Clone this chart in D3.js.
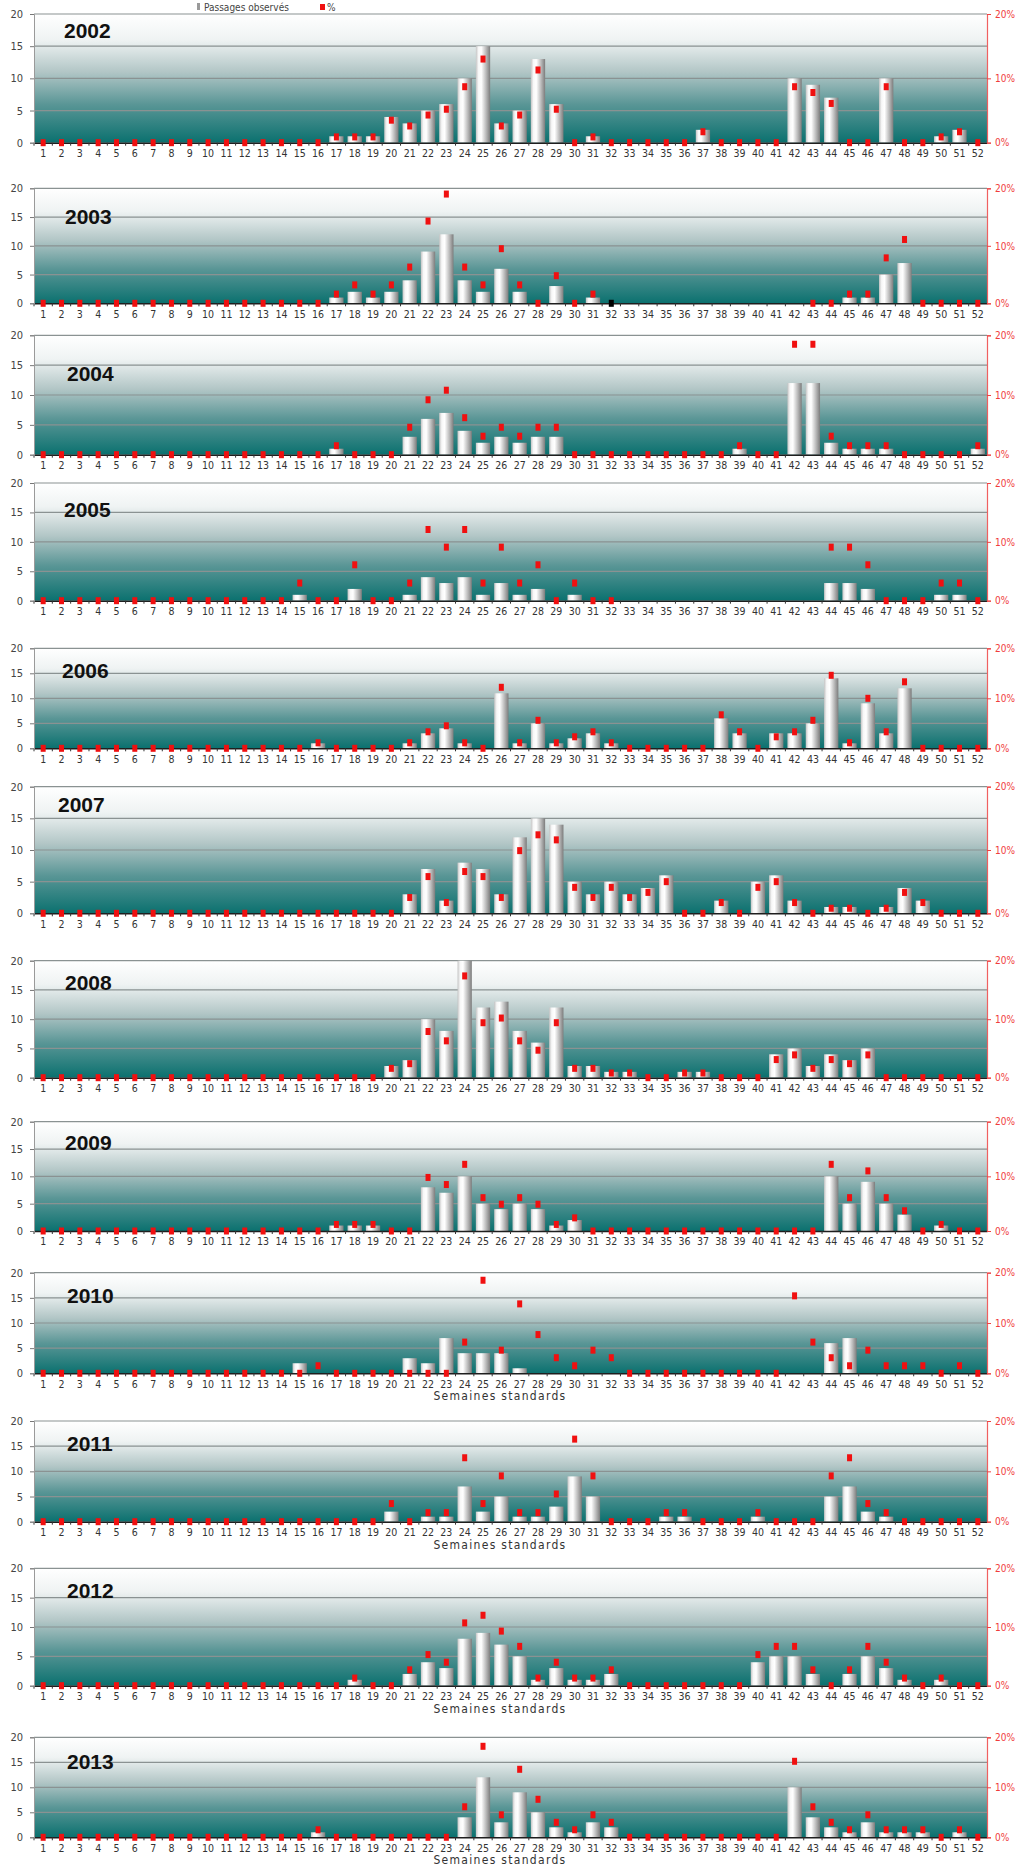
<!DOCTYPE html>
<html>
<head>
<meta charset="utf-8">
<script src="https://cdn.jsdelivr.net/npm/d3@7"></script>
<style>
  html, body { margin: 0; padding: 0; background: #ffffff; }
  svg { display: block; }
  text { font-family: "Liberation Sans Narrow", "DejaVu Sans Condensed", "Arial Narrow", sans-serif; }
</style>
</head>
<body>
<svg id="chart" width="1027" height="1867"></svg>
<script>
// ---- Données : passages observés par semaine standard et part annuelle (%) ----
const semaines = [1,2,3,4,5,6,7,8,9,10,11,12,13,14,15,16,17,18,19,20,21,22,23,24,25,26,
                  27,28,29,30,31,32,33,34,35,36,37,38,39,40,41,42,43,44,45,46,47,48,49,50,51,52];
const annees = [2002,2003,2004,2005,2006,2007,2008,2009,2010,2011,2012,2013];
const ticksPassages = [0,5,10,15,20];
const ticksPct = [0,10,20];

const passages2002 = [0,0,0,0,0,0,0,0,0,0,0,0,0,0,0,0, 1,1,1,4,3,5,6,10,15,3,5,13,6,0,1,0,0,0,0,0,2,0,0,0,0,10,9,7,0,0,10,0,0,1,2,0];
const pct2002      = [0,0,0,0,0,0,0,0,0,0,0,0,0,0,0,0, 0.9,0.9,0.9,3.5,2.6,4.3,5.2,8.7,13.0,2.6,4.3,11.3,5.2,0,0.9,0,0,0,0,0,1.7,0,0,0,0,8.7,7.8,6.1,0,0,8.7,0,0,0.9,1.7,0];

const passages2003 = [0,0,0,0,0,0,0,0,0,0,0,0,0,0,0,0, 1,2,1,2,4,9,12,4,2,6,2,0,3,0,1,0, 0,0,0,0,0,0,0,0,0,0,0,0, 1,1,5,7,0,0,0,0];
const pct2003      = [0,0,0,0,0,0,0,0,0,0,0,0,0,0,0,0, 1.6,3.2,1.6,3.2,6.3,14.3,19.0,6.3,3.2,9.5,3.2,0,4.8,0,1.6,null,
                      null,null,null,null,null,null,null,null,null,null, 0,0,1.6,1.6,7.9,11.1,0,0,0,0];

const passages2004 = [0,0,0,0,0,0,0,0,0,0,0,0,0,0,0,0, 1,0,0,0,3,6,7,4,2,3,2,3,3, 0,0,0,0,0,0,0,0,0, 1,0,0,12,12,2,1,1,1,0,0,0,0,1];
const pct2004      = [0,0,0,0,0,0,0,0,0,0,0,0,0,0,0,0, 1.5,0,0,0,4.6,9.2,10.8,6.2,3.1,4.6,3.1,4.6,4.6, 0,0,0,0,0,0,0,0,0, 1.5,0,0,18.5,18.5,3.1,1.5,1.5,1.5,0,0,0,0,1.5];

const passages2005 = [0,0,0,0,0,0,0,0,0,0,0,0,0,0, 1,0,0,2,0,0,1,4,3,4,1,3,1,2,0,1,0,0, 0,0,0,0,0,0,0,0,0,0,0, 3,3,2,0,0,0,1,1,0];
const pct2005      = [0,0,0,0,0,0,0,0,0,0,0,0,0,0, 3.0,0,0,6.1,0,0,3.0,12.1,9.1,12.1,3.0,9.1,3.0,6.1,0,3.0,0,0,
                      null,null,null,null,null,null,null,null,null,null,null, 9.1,9.1,6.1,0,0,0,3.0,3.0,0];

const passages2006 = [0,0,0,0,0,0,0,0,0,0,0,0,0,0,0, 1,0,0,0,0,1,3,4,1,0,11,1,5,1,2,3,1, 0,0,0,0,0, 6,3,0,3,3,5,14,1,9,3,12, 0,0,0,0];
const pct2006      = [0,0,0,0,0,0,0,0,0,0,0,0,0,0,0, 1.1,0,0,0,0,1.1,3.3,4.5,1.1,0,12.2,1.1,5.6,1.1,2.3,3.3,1.1, 0,0,0,0,0, 6.7,3.3,0,2.3,3.3,5.6,14.6,1.1,10.0,3.3,13.3, 0,0,0,0];

const passages2007 = [0,0,0,0,0,0,0,0,0,0,0,0,0,0,0,0,0,0,0,0, 3,7,2,8,7,3,12,15,14,5,3,5,3,4,6,0,0,2,0,5,6,2,0,1,1,0,1,4,2,0,0,0];
const pct2007      = [0,0,0,0,0,0,0,0,0,0,0,0,0,0,0,0,0,0,0,0, 2.5,5.8,1.7,6.6,5.8,2.5,9.9,12.4,11.6,4.1,2.5,4.1,2.5,3.3,5.0,0,0,1.7,0,4.1,5.0,1.7,0,0.8,0.8,0,0.8,3.3,1.7,0,0,0];

const passages2008 = [0,0,0,0,0,0,0,0,0,0,0,0,0,0,0,0,0,0,0, 2,3,10,8,20,12,13,8,6,12,2,2,1,1,0,0,1,1,0,0,0,4,5,2,4,3,5, 0,0,0,0,0,0];
const pct2008      = [0,0,0,0,0,0,0,0,0,0,0,0,0,0,0,0,0,0,0, 1.6,2.4,7.9,6.3,17.4,9.4,10.2,6.3,4.7,9.4,1.6,1.6,0.8,0.8,0,0,0.8,0.8,0,0,0,3.1,3.9,1.6,3.1,2.4,3.9, 0,0,0,0,0,0];

const passages2009 = [0,0,0,0,0,0,0,0,0,0,0,0,0,0,0,0, 1,1,1,0,0,8,7,10,5,4,5,4,1,2, 0,0,0,0,0,0,0,0,0,0,0,0,0, 10,5,9,5,3,0,1,0,0];
const pct2009      = [0,0,0,0,0,0,0,0,0,0,0,0,0,0,0,0, 1.2,1.2,1.2,0,0,9.8,8.5,12.2,6.1,4.9,6.1,4.9,1.2,2.4, 0,0,0,0,0,0,0,0,0,0,0,0,0, 12.2,6.1,11.0,6.1,3.7,0,1.2,0,0];

const passages2010 = [0,0,0,0,0,0,0,0,0,0,0,0,0,0, 2,0,0,0,0,0, 3,2,7,4,4,4,1, 0,0,0,0,0,0,0,0,0,0,0,0,0,0,0,0, 6,7, 0,0,0,0,0,0,0];
const pct2010      = [0,0,0,0,0,0,0,0,0,0,0,0,0,0,0, 1.5, 0,0,0,0,0,0,0, 6.2,18.5,4.6,13.8,7.7,3.1,1.5,4.6,3.1, 0,0,0,0,0,0,0,0,0, 15.4,6.2,3.1,1.5,4.6,1.5,1.5,1.5,0,1.5,0];

const passages2011 = [0,0,0,0,0,0,0,0,0,0,0,0,0,0,0,0,0,0,0, 2,0,1,1,7,2,5,1,1,3,9,5,0,0,0,1,1,0,0,0,1,0,0,0,5,7,2,1, 0,0,0,0,0];
const pct2011      = [0,0,0,0,0,0,0,0,0,0,0,0,0,0,0,0,0,0,0, 3.6,0,1.8,1.8,12.7,3.6,9.1,1.8,1.8,5.5,16.4,9.1,0,0,0,1.8,1.8,0,0,0,1.8,0,0,0,9.1,12.7,3.6,1.8, 0,0,0,0,0];

const passages2012 = [0,0,0,0,0,0,0,0,0,0,0,0,0,0,0,0,0, 1,0,0,2,4,3,8,9,7,5,1,3,1,1,2, 0,0,0,0,0,0,0, 4,5,5,2,0,2,5,3,1,0,1,0,0];
const pct2012      = [0,0,0,0,0,0,0,0,0,0,0,0,0,0,0,0,0, 1.3,0,0,2.7,5.3,4.0,10.7,12.0,9.3,6.7,1.3,4.0,1.3,1.3,2.7, 0,0,0,0,0,0,0, 5.3,6.7,6.7,2.7,0,2.7,6.7,4.0,1.3,0,1.3,0,0];

const passages2013 = [0,0,0,0,0,0,0,0,0,0,0,0,0,0,0, 1, 0,0,0,0,0,0,0, 4,12,3,9,5,2,1,3,2, 0,0,0,0,0,0,0,0,0, 10,4,2,1,3,1,1,1,0,1,0];
const pct2013      = [0,0,0,0,0,0,0,0,0,0,0,0,0,0,0, 1.5, 0,0,0,0,0,0,0, 6.1,18.2,4.5,13.6,7.6,3.0,1.5,4.5,3.0, 0,0,0,0,0,0,0,0,0, 15.2,6.1,3.0,1.5,4.5,1.5,1.5,1.5,0,1.5,0];

// point de la série % tracé en noir
const marquesNoires = [{annee: 2003, semaine: 32, pct: 0}];

const serieParAnnee = {
  2002: [passages2002, pct2002], 2003: [passages2003, pct2003], 2004: [passages2004, pct2004],
  2005: [passages2005, pct2005], 2006: [passages2006, pct2006], 2007: [passages2007, pct2007],
  2008: [passages2008, pct2008], 2009: [passages2009, pct2009], 2010: [passages2010, pct2010],
  2011: [passages2011, pct2011], 2012: [passages2012, pct2012], 2013: [passages2013, pct2013]
};

// ---- Mise en page des douze panneaux ----
const mise = [
  {haut: 14,     bas: 142.7,  titreX: 64, titreY: 30.7,   legende: false},
  {haut: 188.3,  bas: 303.3,  titreX: 65, titreY: 216.7,  legende: false},
  {haut: 335.3,  bas: 454.7,  titreX: 67, titreY: 373.8,  legende: false},
  {haut: 483,    bas: 600.7,  titreX: 64, titreY: 509.7,  legende: false},
  {haut: 648.3,  bas: 748.3,  titreX: 62, titreY: 670,    legende: false},
  {haut: 786.7,  bas: 913.3,  titreX: 58, titreY: 804,    legende: false},
  {haut: 960.7,  bas: 1077.7, titreX: 65, titreY: 982.3,  legende: false},
  {haut: 1121.7, bas: 1231,   titreX: 65, titreY: 1142.3, legende: false},
  {haut: 1272.7, bas: 1373.3, titreX: 67, titreY: 1295.7, legende: true},
  {haut: 1421,   bas: 1521.7, titreX: 67, titreY: 1443.3, legende: true},
  {haut: 1568.3, bas: 1685.7, titreX: 67, titreY: 1590,   legende: true},
  {haut: 1737.3, bas: 1837.3, titreX: 67, titreY: 1761.7, legende: true}
];

const gauche = 34, droite = 987;
const rouge = '#f01010';

const svg = d3.select('#chart');
const defs = svg.append('defs');

// dégradé de fond : blanc en haut, sarcelle en bas
const fond = defs.append('linearGradient').attr('id', 'fond')
  .attr('x1', 0).attr('y1', 0).attr('x2', 0).attr('y2', 1);
[[0, '#ffffff'], [0.2, '#eff3f3'], [0.45, '#b2c6c6'], [0.7, '#5a9696'], [1, '#0b716f']]
  .forEach(([o, c]) => fond.append('stop').attr('offset', o).attr('stop-color', c));

// dégradé cylindrique des barres
const grad = defs.append('linearGradient').attr('id', 'barre')
  .attr('x1', 0).attr('y1', 0).attr('x2', 1).attr('y2', 0);
[[0, '#c4c4c4'], [0.18, '#f7f7f7'], [0.38, '#ffffff'], [0.7, '#bdbdbd'], [1, '#7c7c7c']]
  .forEach(([o, c]) => grad.append('stop').attr('offset', o).attr('stop-color', c));

const x = d3.scaleBand().domain(semaines).range([gauche, droite]).paddingInner(0.22).paddingOuter(0.11);
const pas = x.step();
const bw = x.bandwidth();

annees.forEach((annee, k) => {
  const m = mise[k];
  const [passages, pct] = serieParAnnee[annee];
  const y = d3.scaleLinear().domain([0, 20]).range([m.bas, m.haut]).clamp(true);
  const yPct = d3.scaleLinear().domain([0, 20]).range([m.bas, m.haut]);
  const g = svg.append('g').attr('class', 'panneau');

  g.append('rect')
    .attr('x', gauche).attr('y', m.haut)
    .attr('width', droite - gauche).attr('height', m.bas - m.haut)
    .attr('fill', 'url(#fond)');

  // lignes de quadrillage
  g.selectAll('line.grille').data(ticksPassages.filter(t => t > 0)).join('line')
    .attr('class', 'grille')
    .attr('x1', gauche).attr('x2', droite)
    .attr('y1', d => y(d)).attr('y2', d => y(d))
    .attr('stroke', '#8a9292').attr('stroke-width', 1.2);

  // barres des passages observés
  const donneesBarres = semaines.map((s, i) => ({s, v: passages[i]})).filter(d => d.v > 0);
  g.selectAll('rect.barre').data(donneesBarres).join('rect')
    .attr('class', 'barre')
    .attr('x', d => x(d.s)).attr('width', bw)
    .attr('y', d => y(d.v)).attr('height', d => m.bas - y(d.v))
    .attr('fill', 'url(#barre)');

  // axe des semaines
  const axeX = g.append('g').attr('transform', `translate(0,${m.bas})`)
    .call(d3.axisBottom(x).tickSize(0).tickPadding(7));
  axeX.select('.domain').attr('stroke', '#1e1e1e').attr('stroke-width', 1.4);
  axeX.selectAll('text').attr('fill', '#333').attr('font-size', 10.5);
  g.selectAll('line.cran').data(semaines).join('line')
    .attr('class', 'cran')
    .attr('x1', d => x(d) - (pas - bw) / 2).attr('x2', d => x(d) - (pas - bw) / 2)
    .attr('y1', m.bas).attr('y2', m.bas + 3)
    .attr('stroke', '#333').attr('stroke-width', 1);

  // axe gauche (passages)
  const axeG = g.append('g').attr('transform', `translate(${gauche},0)`)
    .call(d3.axisLeft(y).tickValues(ticksPassages).tickSize(4).tickPadding(7));
  axeG.select('.domain').attr('stroke', '#9a9a9a');
  axeG.selectAll('.tick line').attr('stroke', '#777');
  axeG.selectAll('text').attr('fill', '#444').attr('font-size', 11);

  // axe droit (%)
  const axeD = g.append('g').attr('transform', `translate(${droite},0)`)
    .call(d3.axisRight(yPct).tickValues(ticksPct).tickFormat(d => d + '%').tickSize(4).tickPadding(4));
  axeD.select('.domain').attr('stroke', '#f06060').attr('stroke-width', 1.2);
  axeD.selectAll('.tick line').attr('stroke', '#f04040');
  axeD.selectAll('text').attr('fill', '#f03c3c').attr('font-size', 10);

  // série % en carrés rouges
  const donneesPct = semaines.map((s, i) => ({s, p: pct[i]})).filter(d => d.p !== null);
  g.selectAll('rect.pct').data(donneesPct).join('rect')
    .attr('class', 'pct')
    .attr('x', d => x(d.s) + bw / 2 - 2.5).attr('width', 5)
    .attr('y', d => yPct(d.p) - 3.5).attr('height', 7)
    .attr('fill', rouge);

  g.selectAll('rect.noir').data(marquesNoires.filter(d => d.annee === annee)).join('rect')
    .attr('class', 'noir')
    .attr('x', d => x(d.semaine) + bw / 2 - 2.5).attr('width', 5)
    .attr('y', d => yPct(d.pct) - 3.5).attr('height', 7)
    .attr('fill', '#000');

  // année
  g.append('text')
    .attr('x', m.titreX).attr('y', m.titreY)
    .attr('dominant-baseline', 'central')
    .style('font-family', '"Liberation Sans", Arial, sans-serif')
    .attr('font-weight', 'bold').attr('font-size', 21).attr('fill', '#111')
    .text(annee);

  if (m.legende) {
    g.append('text')
      .attr('x', 500).attr('y', m.bas + 23)
      .attr('text-anchor', 'middle').attr('dominant-baseline', 'central')
      .attr('font-size', 12).attr('letter-spacing', 1.3).attr('fill', '#333')
      .text('Semaines standards');
  }
});

// légende
const leg = svg.append('g');
leg.append('rect').attr('x', 197).attr('y', 3).attr('width', 3).attr('height', 7).attr('fill', '#9a9a9a');
leg.append('text').attr('x', 204).attr('y', 7).attr('dominant-baseline', 'central')
  .attr('font-size', 10).attr('fill', '#444').text('Passages observés');
leg.append('rect').attr('x', 320).attr('y', 4).attr('width', 5).attr('height', 6).attr('fill', rouge);
leg.append('text').attr('x', 327).attr('y', 7).attr('dominant-baseline', 'central')
  .attr('font-size', 10).attr('fill', '#444').text('%');
</script>
</body>
</html>
